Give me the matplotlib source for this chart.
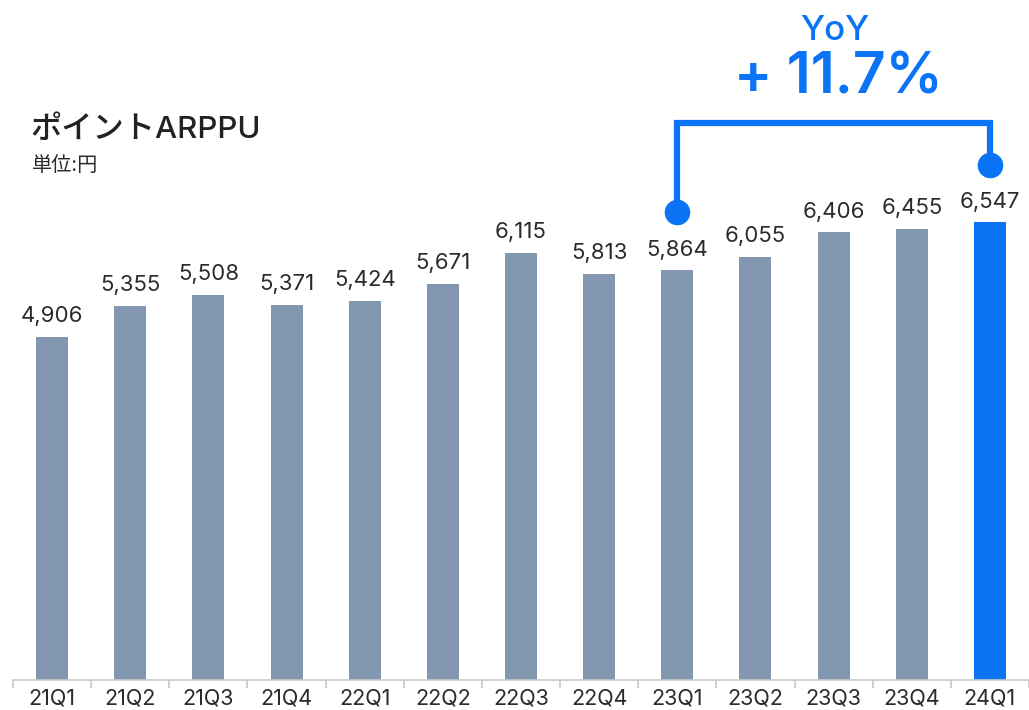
import matplotlib
matplotlib.use('Agg')
import matplotlib.pyplot as plt
import numpy as np

plt.rcParams['font.family'] = ['Inter', 'Noto Sans CJK JP', 'DejaVu Sans']

quarters = ['21Q1', '21Q2', '21Q3', '21Q4', '22Q1', '22Q2', '22Q3',
            '22Q4', '23Q1', '23Q2', '23Q3', '23Q4', '24Q1']
arppu = [4906, 5355, 5508, 5371, 5424, 5671, 6115,
         5813, 5864, 6055, 6406, 6455, 6547]
yoy_text = '+ 11.7%'

grey = '#8497b0'
blue = '#0a74f5'
dark = '#2b2b2b'

fig = plt.figure(figsize=(10.29, 7.10), dpi=100)
ax = fig.add_axes([13 / 1029, 30 / 710, 1 - 13 / 1029, 680 / 710])

x = np.arange(len(quarters))
colors = [grey] * (len(quarters) - 1) + [blue]
ax.bar(x, arppu, width=0.41, color=colors, zorder=2)

for xi, v in zip(x, arppu):
    ax.annotate(f'{v:,}', (xi, v), xytext=(0, 10.5), textcoords='offset points',
                ha='center', va='baseline', fontsize=16, color=dark)

ax.set_xlim(-0.5, len(quarters) - 0.5)
ax.set_ylim(0, 9728)

# axis style
for s in ['top', 'right', 'left']:
    ax.spines[s].set_visible(False)
ax.spines['bottom'].set_color('#c8c8c8')
ax.spines['bottom'].set_linewidth(1.2)
ax.set_yticks([])
ax.set_xticks(x)
ax.set_xticklabels(quarters, fontsize=15.5, color=dark)
ax.tick_params(axis='x', which='major', length=0, pad=6)
ax.set_xticks(np.arange(-0.5, len(quarters), 1), minor=True)
ax.tick_params(axis='x', which='minor', length=6, color='#c8c8c8', width=1.2)

# YoY bracket between 23Q1 and 24Q1
px = 0.0699  # px per unit
i0, i1 = 8, 12
y0 = arppu[i0] + 58 / px
y1 = arppu[i1] + 57 / px
ytop = arppu[i1] + 99 / px
ax.plot([x[i0], x[i0], x[i1], x[i1]], [y0, ytop, ytop, y1],
        color=blue, lw=4.5, solid_joinstyle='miter', solid_capstyle='butt',
        clip_on=False, zorder=3)
ax.scatter([x[i0], x[i1]], [y0, y1], s=340, color=blue, zorder=4, clip_on=False,
           linewidths=0)

fig.text(835 / 1029, 1 - 31 / 710, 'YoY', ha='center', va='center',
         fontsize=25, color=blue, fontweight='medium')
fig.text(838 / 1029, 1 - 78 / 710, yoy_text, ha='center', va='center',
         fontsize=41, color=blue, fontweight='semibold')

fig.text(30 / 1029, 1 - 130 / 710, 'ポイントARPPU', ha='left', va='center',
         fontsize=22.5, color='#222222', fontweight='medium')
fig.text(32 / 1029, 1 - 166 / 710, '単位:円', ha='left', va='center',
         fontsize=14.5, color=dark)

fig.savefig('out.png', dpi=100)
